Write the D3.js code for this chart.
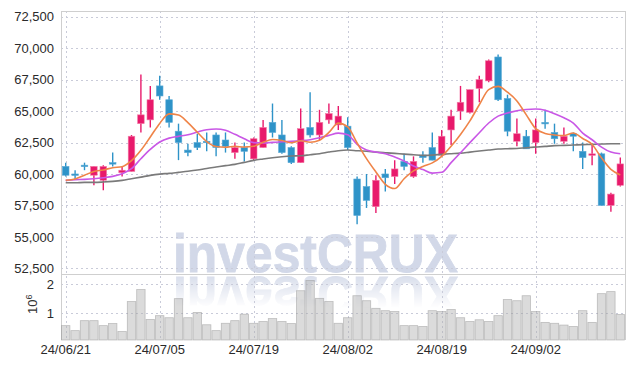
<!DOCTYPE html>
<html><head><meta charset="utf-8">
<script src="https://cdn.jsdelivr.net/npm/d3@7"></script>
<style>
html,body{margin:0;padding:0;background:#fff;}
svg{display:block;font-family:"Liberation Sans",Arial,sans-serif;}
</style></head>
<body><svg id="c" width="634" height="368"></svg>
<script>
const dates = ["24/06/21","24/06/24","24/06/25","24/06/26","24/06/27","24/06/28","24/07/01","24/07/02","24/07/03","24/07/04",
"24/07/05","24/07/08","24/07/09","24/07/10","24/07/11","24/07/12","24/07/15","24/07/16","24/07/17","24/07/18",
"24/07/19","24/07/22","24/07/23","24/07/24","24/07/25","24/07/26","24/07/29","24/07/30","24/07/31","24/08/01",
"24/08/02","24/08/05","24/08/06","24/08/07","24/08/08","24/08/09","24/08/12","24/08/13","24/08/14","24/08/16",
"24/08/19","24/08/20","24/08/21","24/08/22","24/08/23","24/08/26","24/08/27","24/08/28","24/08/29","24/08/30",
"24/09/02","24/09/03","24/09/04","24/09/05","24/09/06","24/09/09","24/09/10","24/09/11","24/09/12","24/09/13"];
const open  = [60600,60000,60700,59900,59500,60900,60100,60200,64000,64300,67000,65900,63400,61900,62500,62600,63100,62700,61700,62100,
61200,62100,64100,63100,62100,60900,63700,63100,64300,63900,63800,59600,59000,57400,60000,59800,61000,59800,61500,62100,
61500,63500,65000,64900,66800,67400,69300,66000,62600,63000,62500,64100,63300,62600,63200,61800,61500,61600,57500,59100];
const high  = [60900,60300,60900,60600,60700,61700,60600,63100,67900,67000,67800,66200,64000,62400,63200,63300,63300,63300,62500,62500,
62900,64300,65600,64300,62200,65200,66500,65100,65600,65400,64500,59800,60000,59900,60400,61100,61600,61400,61800,63300,
63500,65100,67000,66700,67800,69100,69500,66300,64400,63500,64400,65100,64000,63700,63300,62500,62400,61700,58500,61300];
const low   = [59800,59600,60300,59100,58700,60600,59800,60200,63300,63700,65900,63700,61100,61400,61900,61800,61400,61700,61200,61000,
61100,62100,62900,61600,60800,60900,62900,62700,64000,63500,61900,56000,57300,56900,58600,59200,60300,59700,60900,61100,
61400,62300,64300,64800,65700,67300,65800,63000,62200,62000,61600,63600,62400,62400,61800,60400,60700,57500,57000,59000];
const close = [59900,59900,60600,60600,60600,60800,60300,63000,64700,65900,66200,64100,62500,61700,62100,62500,62100,62200,62100,61800,
62800,63700,63300,61700,60900,63600,63100,64100,64800,64600,62100,56700,57900,59500,59700,60400,60600,61000,61300,61100,
63000,64600,65700,66700,67500,69000,65900,63400,63200,62000,63500,64000,62800,63000,63000,61300,61600,57500,58400,60800];
const volume = [0.58,0.41,0.75,0.75,0.58,0.65,0.38,1.40,1.81,0.79,0.92,0.85,1.50,0.85,1.03,0.61,0.41,0.66,0.75,0.97,
0.66,0.72,0.82,0.72,0.65,1.77,2.12,1.51,1.40,0.66,0.85,1.60,1.43,1.17,1.09,1.06,0.58,0.58,0.55,1.09,
1.06,1.13,0.85,0.72,0.78,0.72,0.92,1.47,1.43,1.60,1.06,0.69,0.66,0.60,0.55,1.09,0.69,1.67,1.74,0.96];
const ma5 = [59500,59600,59900,60200,60320,60500,60580,61060,61880,62940,64020,64780,64680,64080,63320,62580,62180,62120,62200,62140,
62200,62520,62740,62660,62480,62640,62520,62680,63300,64040,63740,62460,61220,60160,59180,58840,59620,60240,60600,60880,
61400,62200,63140,64220,65500,66700,66960,66500,65800,64700,63600,63220,63100,63060,63260,62820,62340,61280,60360,59920];
const ma20 = [59490,59540,59570,59620,59700,59810,60020,60420,61210,61950,62540,62850,62990,63120,63330,63520,63580,63470,63150,62800,
62490,62460,62510,62560,62590,62640,62720,62880,63070,63250,63120,62350,61900,61740,61610,61350,61030,60630,60350,60070,
60130,60900,61690,62490,63280,64050,64600,64840,65030,65130,65160,65060,64790,64470,64050,63250,62720,62140,61740,61610];
const ma60 = [59300,59300,59330,59330,59360,59410,59490,59620,59750,59890,59990,60050,60130,60210,60310,60440,60550,60660,60760,60920,
61080,61190,61290,61370,61430,61450,61530,61610,61740,61850,61900,61850,61800,61740,61690,61640,61580,61530,61480,61500,
61560,61610,61660,61740,61820,61900,61980,62010,62030,62090,62140,62190,62250,62270,62300,62330,62350,62380,62400,62400];
const priceTicks = [52500,55000,57500,60000,62500,65000,67500,70000,72500];
const volTicks = [1,2];
const dateTicks = ["24/06/21","24/07/05","24/07/19","24/08/02","24/08/19","24/09/02"];
const watermark = "investCRUX";

const svg = d3.select("#c");
const L = 61, R = 625, T = 11, MID = 274, B = 340;
const idx = d3.range(dates.length);
const x = d3.scaleBand().domain(idx).range([L, R]);
const cx = i => x(i) + x.bandwidth()/2;
const y = d3.scaleLinear().domain([52000, 72900]).range([274.6, 11.7]);
const yv = d3.scaleLinear().domain([0.09, 2.34]).range([B, MID]);

const defs = svg.append("defs");
const grad = defs.append("linearGradient").attr("id","fade").attr("gradientUnits","userSpaceOnUse")
  .attr("x1",0).attr("x2",0).attr("y1",MID).attr("y2",308);
grad.append("stop").attr("offset",0).attr("stop-color","#fff").attr("stop-opacity",0.9);
grad.append("stop").attr("offset",1).attr("stop-color","#fff").attr("stop-opacity",0);
const mask = defs.append("mask").attr("id","m").attr("maskUnits","userSpaceOnUse")
  .attr("x",0).attr("y",0).attr("width",634).attr("height",368);
mask.append("rect").attr("x",L).attr("y",MID+1).attr("width",R-L).attr("height",40).attr("fill","url(#fade)");
defs.append("clipPath").attr("id","pc").append("rect").attr("x",L).attr("y",T).attr("width",R-L).attr("height",MID-T);

// watermark + reflection (reflection reuses the same text element)
const wm = {x:173, base:272, len:285, size:54};
svg.append("text").attr("id","wm").attr("x",wm.x).attr("y",wm.base).attr("font-size",wm.size).attr("font-weight","bold")
  .attr("textLength",wm.len).attr("lengthAdjust","spacingAndGlyphs").attr("fill","#d2d8e8")
  .attr("stroke","#d2d8e8").attr("stroke-width",0.8).text(watermark);
svg.append("g").attr("mask","url(#m)").append("use").attr("href","#wm")
  .attr("transform",`translate(0,${2*MID+1}) scale(1,-1)`);

// grid
const gridCol = "#c9cbd9";
const g = svg.append("g").attr("stroke",gridCol).attr("stroke-width",1).attr("stroke-dasharray","2,3");
g.selectAll(".hp").data(priceTicks).join("line").attr("x1",L).attr("x2",R)
  .attr("y1",d=>Math.round(y(d))+0.5).attr("y2",d=>Math.round(y(d))+0.5);
g.selectAll(".hv").data(volTicks).join("line").attr("class","hv").attr("x1",L).attr("x2",R)
  .attr("y1",d=>Math.round(yv(d))+0.5).attr("y2",d=>Math.round(yv(d))+0.5);
g.selectAll(".vx").data(dateTicks).join("line").attr("class","vx")
  .attr("x1",d=>Math.round(cx(dates.indexOf(d)))+0.5).attr("x2",d=>Math.round(cx(dates.indexOf(d)))+0.5)
  .attr("y1",T).attr("y2",B);

// frame
const fr = svg.append("g").attr("stroke","#cfcfcf").attr("stroke-width",1).attr("fill","none");
fr.append("line").attr("x1",L).attr("x2",R).attr("y1",T+0.5).attr("y2",T+0.5);
fr.append("line").attr("x1",L).attr("x2",R).attr("y1",MID+0.5).attr("y2",MID+0.5);
fr.append("line").attr("x1",R+0.5).attr("x2",R+0.5).attr("y1",T).attr("y2",B);
fr.append("line").attr("x1",L+0.5).attr("x2",L+0.5).attr("y1",T).attr("y2",B);

// volume bars
svg.append("g").selectAll("rect").data(idx).join("rect")
  .attr("x",i=>x(i)+0.5).attr("width",x.bandwidth()-1)
  .attr("y",i=>yv(volume[i])).attr("height",i=>B-yv(volume[i]))
  .attr("fill","rgba(175,175,175,0.45)").attr("stroke","rgba(150,150,150,0.55)").attr("stroke-width",0.8);

// candles
const up = "#e8196b", dn = "#2e93c8";
const cg = svg.append("g").attr("clip-path","url(#pc)");
const col = i => close[i] > open[i] ? up : dn;
cg.selectAll(".wick").data(idx).join("line")
  .attr("x1",cx).attr("x2",cx).attr("y1",i=>y(high[i])).attr("y2",i=>y(low[i]))
  .attr("stroke",col).attr("stroke-width",1.4);
const bw = x.bandwidth()*0.7;
cg.selectAll(".body").data(idx).join("rect")
  .attr("x",i=>cx(i)-bw/2).attr("width",bw)
  .attr("y",i=>y(Math.max(open[i],close[i])))
  .attr("height",i=>Math.max(1.5, Math.abs(y(open[i])-y(close[i]))))
  .attr("fill",col).attr("stroke",i=>close[i]>open[i]?"#f37aa5":"#5aaad6").attr("stroke-width",0.6);

// moving averages
const line = arr => d3.line().x((d,i)=>cx(i)).y(d=>y(d)).curve(d3.curveMonotoneX)(arr);
cg.append("path").attr("d",line(ma60)).attr("fill","none").attr("stroke","#7a7a7a").attr("stroke-width",1.6);
cg.append("path").attr("d",line(ma20)).attr("fill","none").attr("stroke","#c957e6").attr("stroke-width",1.6);
cg.append("path").attr("d",line(ma5)).attr("fill","none").attr("stroke","#ef8448").attr("stroke-width",1.6);

// axes
const tf = {fill:"#2a2a2a", size:13};
const ay = svg.append("g").attr("transform",`translate(${L},0)`)
  .call(d3.axisLeft(y).tickValues(priceTicks).tickSize(0).tickPadding(7).tickFormat(d3.format(",")));
ay.select(".domain").remove();
ay.selectAll("text").attr("fill",tf.fill).attr("font-size",tf.size).attr("font-family","Liberation Sans, Arial, sans-serif");
const av = svg.append("g").attr("transform",`translate(${L},0)`)
  .call(d3.axisLeft(yv).tickValues(volTicks).tickSize(0).tickPadding(7).tickFormat(d3.format("d")));
av.select(".domain").remove();
av.selectAll("text").attr("fill",tf.fill).attr("font-size",tf.size).attr("font-family","Liberation Sans, Arial, sans-serif");
const ax = svg.append("g").attr("transform",`translate(0,${B})`)
  .call(d3.axisBottom(x).tickValues(dateTicks.map(d=>dates.indexOf(d))).tickSize(0).tickPadding(5).tickFormat(i=>dates[i]));
ax.select(".domain").remove();
ax.selectAll("text").attr("fill",tf.fill).attr("font-size",tf.size).attr("font-family","Liberation Sans, Arial, sans-serif");

// volume unit label
const vl = svg.append("text").attr("transform","translate(37,314) rotate(-90)")
  .attr("fill","#333").attr("font-size",13);
vl.append("tspan").text("10");
vl.append("tspan").attr("dy",-5).attr("font-size",9).text("6");
</script></body></html>
